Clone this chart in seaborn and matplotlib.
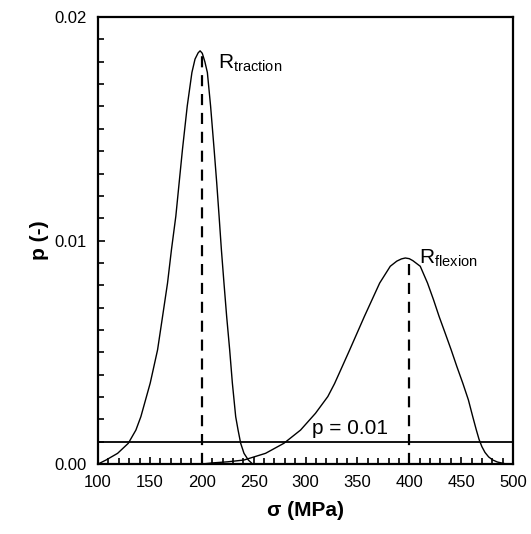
import matplotlib
matplotlib.use("Agg")
import matplotlib.pyplot as plt
import pandas as pd
import seaborn as sns
from matplotlib.ticker import MultipleLocator, FormatStrFormatter

# values
traction_sigma = [100, 101.3, 107.7, 118.9, 129.2, 136.5, 141.3, 150.3, 157.4, 162.2, 167,
                  170.8, 175, 178.2, 181.4, 186, 190.5, 193.5, 196.5, 198.4, 200.5, 203,
                  205.4, 208.5, 211.9, 214.4, 216.7, 218.9, 221.4, 224, 226.9, 229.5,
                  232.7, 235, 237.5, 240.7, 244.9, 248.8, 250]
traction_p = [0.0, 0.00003, 0.00018, 0.00048, 0.00093, 0.00152, 0.00212, 0.00362, 0.00511,
              0.0066, 0.0081, 0.0096, 0.01109, 0.01259, 0.01408, 0.01602, 0.01752, 0.01812,
              0.01840, 0.01849, 0.01838, 0.01800, 0.01752, 0.01602, 0.01408, 0.01259,
              0.01109, 0.0096, 0.0081, 0.0066, 0.00511, 0.00362, 0.00212, 0.00152,
              0.00093, 0.00048, 0.00018, 0.00001, 0.0]

flexion_sigma = [200, 210, 225, 240.7, 261.5, 279.2, 295.2, 309.6, 321.5, 328, 334.3, 342.6,
                 349.7, 356.7, 364.1, 371.5, 381.7, 388, 392.5, 396.2, 400, 403.5, 410.6,
                 417.6, 423.4, 428.8, 434.6, 440.4, 445.9, 451.6, 457, 461.2, 464.5, 467.3,
                 470, 473, 476.5, 480.5, 485, 490.7, 494]
flexion_p = [0.0, 0.00005, 0.0001, 0.00018, 0.00048, 0.00093, 0.00152, 0.00227, 0.00302,
             0.0036, 0.00425, 0.00511, 0.00586, 0.0066, 0.00735, 0.0081, 0.00885, 0.00908,
             0.00918, 0.00922, 0.00919, 0.00910, 0.00885, 0.0081, 0.00735, 0.0066, 0.00586,
             0.00511, 0.00436, 0.00362, 0.00287, 0.00212, 0.00155, 0.0011, 0.00078,
             0.00052, 0.00032, 0.00018, 0.00009, 0.00003, 0.0]

peak_sigma = [200, 400]
peak_p = [0.01838, 0.00919]
threshold_p = 0.001

traction = pd.DataFrame({"sigma": traction_sigma, "p": traction_p})
flexion = pd.DataFrame({"sigma": flexion_sigma, "p": flexion_p})

sns.set_theme(style="ticks")
plt.rcParams["font.family"] = ["Liberation Sans", "DejaVu Sans"]
plt.rcParams["mathtext.fontset"] = "custom"
plt.rcParams["mathtext.rm"] = "Liberation Sans"
plt.rcParams["text.color"] = "black"
plt.rcParams["axes.labelcolor"] = "black"

fig = plt.figure(figsize=(5.31, 5.34), dpi=100)
ax = fig.add_axes([0.1846, 0.131, 0.7815, 0.837])

sns.lineplot(data=traction, x="sigma", y="p", ax=ax, color="black", linewidth=1.0,
             sort=False, estimator=None)
sns.lineplot(data=flexion, x="sigma", y="p", ax=ax, color="black", linewidth=1.0,
             sort=False, estimator=None)

for s, p in zip(peak_sigma, peak_p):
    ax.plot([s, s], [0, p], color="black", linewidth=1.6, linestyle=(0, (5, 3.5)))

ax.axhline(threshold_p, color="black", linewidth=1.3)

ax.text(216, 0.0184, r"R$_{\mathregular{traction}}$", fontsize=15, va="top", ha="left")
ax.text(409, 0.0097, r"R$_{\mathregular{flexion}}$", fontsize=15, va="top", ha="left")
ax.text(306, 0.00115, "p = 0.01", fontsize=15, va="bottom", ha="left")

ax.set_xlim(100, 500)
ax.set_ylim(0, 0.02)
ax.xaxis.set_major_locator(MultipleLocator(50))
ax.xaxis.set_minor_locator(MultipleLocator(10))
ax.yaxis.set_major_locator(MultipleLocator(0.01))
ax.yaxis.set_minor_locator(MultipleLocator(0.001))
ax.yaxis.set_major_formatter(FormatStrFormatter("%.2f"))

ax.tick_params(which="both", direction="in", colors="black", labelsize=12, width=1.2)
ax.tick_params(which="major", length=5, pad=8)
ax.tick_params(which="minor", length=4)
for spine in ax.spines.values():
    spine.set_visible(True)
    spine.set_linewidth(1.6)
    spine.set_color("black")

ax.set_xlabel("σ (MPa)", fontsize=15, fontweight="bold", labelpad=8)
ax.set_ylabel("p (-)", fontsize=15, fontweight="bold", labelpad=4)

fig.savefig("out.png", dpi=100)
